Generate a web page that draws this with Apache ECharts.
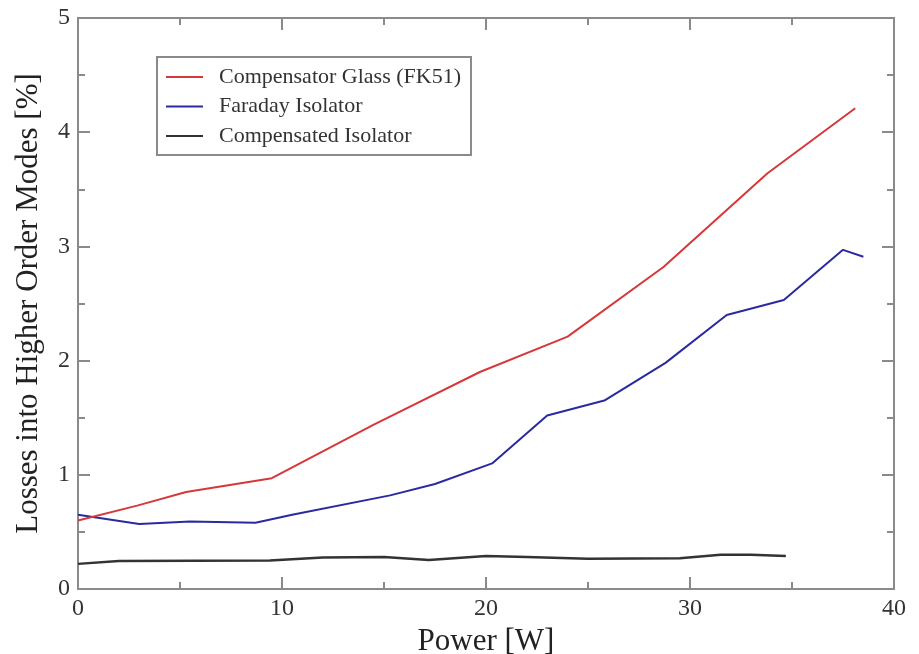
<!DOCTYPE html>
<html>
<head>
<meta charset="utf-8">
<script src="https://cdn.jsdelivr.net/npm/echarts@6/dist/echarts.min.js"></script>
<style>
html,body{margin:0;padding:0;background:#fff;}
#chart{width:919px;height:654px;}
</style>
</head>
<body>
<div id="chart"></div>
<script>
// Data: [power W, loss %]
const seriesNames = ["Compensator Glass (FK51)", "Faraday Isolator", "Compensated Isolator"];
const compensatorGlass = [[0,0.60],[2.9,0.73],[5.3,0.85],[9.5,0.97],[14.5,1.44],[19.7,1.90],[24.0,2.21],[28.7,2.82],[33.8,3.64],[38.1,4.21]];
const faradayIsolator = [[0,0.65],[3.0,0.57],[5.5,0.59],[8.7,0.58],[10.5,0.65],[15.3,0.82],[17.5,0.92],[20.3,1.10],[23.0,1.52],[25.8,1.65],[28.8,1.98],[31.8,2.40],[34.6,2.53],[37.5,2.97],[38.5,2.91]];
const compensatedIsolator = [[0,0.22],[2.0,0.245],[9.4,0.25],[12.0,0.275],[15.0,0.28],[17.2,0.255],[20.0,0.29],[22.0,0.28],[25.0,0.265],[29.5,0.27],[31.5,0.30],[33.0,0.30],[34.7,0.29]];
const xTicks = {min:0, max:40, interval:10};
const yTicks = {min:0, max:5, interval:1};

const FONT = '"Liberation Serif", "Times New Roman", serif';
const AXIS_COLOR = '#8a8a8a';
const chart = echarts.init(document.getElementById('chart'), null, {renderer:'canvas'});

function axisCommon(extra){
  return Object.assign({
    type:'value',
    axisLine:{show:true, onZero:false, lineStyle:{color:AXIS_COLOR, width:2}},
    axisTick:{show:true, inside:true, length:12, lineStyle:{color:AXIS_COLOR, width:2}},
    minorTick:{show:true, splitNumber:2, length:7, lineStyle:{color:AXIS_COLOR, width:2}},
    splitLine:{show:false},
    minorSplitLine:{show:false}
  }, extra);
}

const option = {
  animation:false,
  backgroundColor:'#fff',
  grid:{left:78, right:25, top:18, bottom:65, containLabel:false, outerBoundsMode:'none'},
  xAxis:[
    axisCommon({position:'bottom', min:xTicks.min, max:xTicks.max, interval:xTicks.interval,
      name:'Power [W]', nameLocation:'middle', nameGap:25,
      nameTextStyle:{fontFamily:FONT, fontSize:31, color:'#222'},
      axisLabel:{fontFamily:FONT, fontSize:24, color:'#333', margin:8}}),
    axisCommon({position:'top', min:xTicks.min, max:xTicks.max, interval:xTicks.interval,
      axisLabel:{show:false}})
  ],
  yAxis:[
    axisCommon({position:'left', min:yTicks.min, max:yTicks.max, interval:yTicks.interval,
      name:'Losses into Higher Order Modes [%]', nameLocation:'middle', nameGap:34, nameRotate:90,
      nameTextStyle:{fontFamily:FONT, fontSize:31, color:'#222'},
      axisLabel:{fontFamily:FONT, fontSize:24, color:'#333', margin:8}}),
    axisCommon({position:'right', min:yTicks.min, max:yTicks.max, interval:yTicks.interval,
      axisLabel:{show:false}})
  ],
  legend:{
    orient:'vertical', left:157, top:57,
    borderColor:AXIS_COLOR, borderWidth:2,
    padding:[9, 10, 8, 8],
    itemWidth:37, itemHeight:14, itemGap:7.5,
    itemStyle:{opacity:0},
    lineStyle:{width:2},
    textStyle:{fontFamily:FONT, fontSize:22, color:'#333', padding:[0,0,0,11]},
    data:seriesNames
  },
  series:[
    {name:seriesNames[0], type:'line', data:compensatorGlass, symbol:'none', lineStyle:{color:'#d6383a', width:2}, itemStyle:{color:'#d6383a'}, z:3},
    {name:seriesNames[1], type:'line', data:faradayIsolator, symbol:'none', lineStyle:{color:'#2a2aa0', width:2}, itemStyle:{color:'#2a2aa0'}, z:2},
    {name:seriesNames[2], type:'line', data:compensatedIsolator, symbol:'none', lineStyle:{color:'#333333', width:2.5}, itemStyle:{color:'#333333'}, z:1}
  ]
};
chart.setOption(option);
</script>
</body>
</html>
